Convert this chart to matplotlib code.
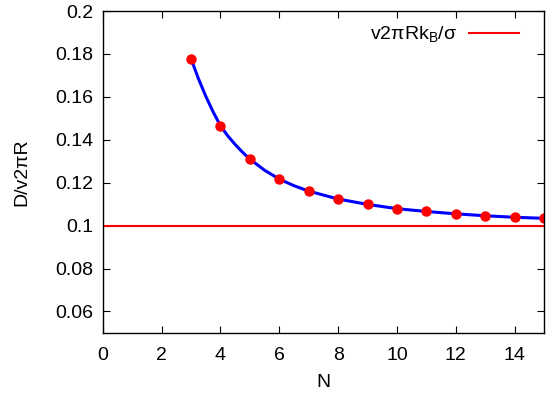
import matplotlib
matplotlib.use("Agg")
import matplotlib.pyplot as plt

plt.rcParams["font.family"] = ["Liberation Sans", "DejaVu Sans"]

# measured points
n_pts = [3, 4, 5, 6, 7, 8, 9, 10, 11, 12, 13, 14, 15]
d_pts = [0.1777, 0.1465, 0.1310, 0.1217, 0.1161, 0.1124, 0.1099,
         0.1079, 0.1067, 0.1054, 0.1045, 0.1039, 0.1034]

# fit curve
fit_n = [3, 3.25, 3.5, 3.75, 4, 4.25, 4.5, 4.75, 5, 5.5, 6, 6.5, 7, 8, 9,
         10, 11, 12, 13, 14, 15]
fit_d = [0.1777, 0.1685, 0.1603, 0.1530, 0.1465, 0.1418, 0.1378, 0.1342,
         0.1310, 0.1258, 0.1217, 0.1186, 0.1161, 0.1124, 0.1099, 0.1079,
         0.1066, 0.1055, 0.1046, 0.1039, 0.1034]

limit_value = 0.1
limit_label = "v2\u03c0Rk$_\\mathregular{B}$/\u03c3"

fig = plt.figure(figsize=(5.5, 3.94), dpi=100)
ax = fig.add_axes([0.187, 0.155, 0.802, 0.817])

ax.axhline(limit_value, color="#ff0000", linewidth=1.5, label=limit_label)
ax.plot(fit_n, fit_d, color="#0000ff", linewidth=2.2)
ax.plot(n_pts, d_pts, "o", color="#ff0000", markersize=6.5)

ax.set_xlim(0, 15)
ax.set_ylim(0.05, 0.2)
ax.set_xticks(range(0, 15, 2))
ax.set_yticks([0.06, 0.08, 0.1, 0.12, 0.14, 0.16, 0.18, 0.2])
ax.set_yticklabels(["0.06", "0.08", "0.1", "0.12", "0.14", "0.16", "0.18", "0.2"])
ax.tick_params(direction="in", top=True, right=True, length=5, width=0.8,
               labelsize=14, pad=7)
ax.tick_params(axis="x", pad=10)
for s in ax.spines.values():
    s.set_linewidth(1.0)

ax.set_xlabel("N", fontsize=14, labelpad=7)
ax.set_ylabel("D/v2\u03c0R", fontsize=14, labelpad=18)

ax.legend(loc="upper right", frameon=False, markerfirst=False, fontsize=14,
          handlelength=2.6, handletextpad=0.6, borderaxespad=0.3,
          bbox_to_anchor=(0.975, 1.0))

fig.savefig("out.png", dpi=100)
